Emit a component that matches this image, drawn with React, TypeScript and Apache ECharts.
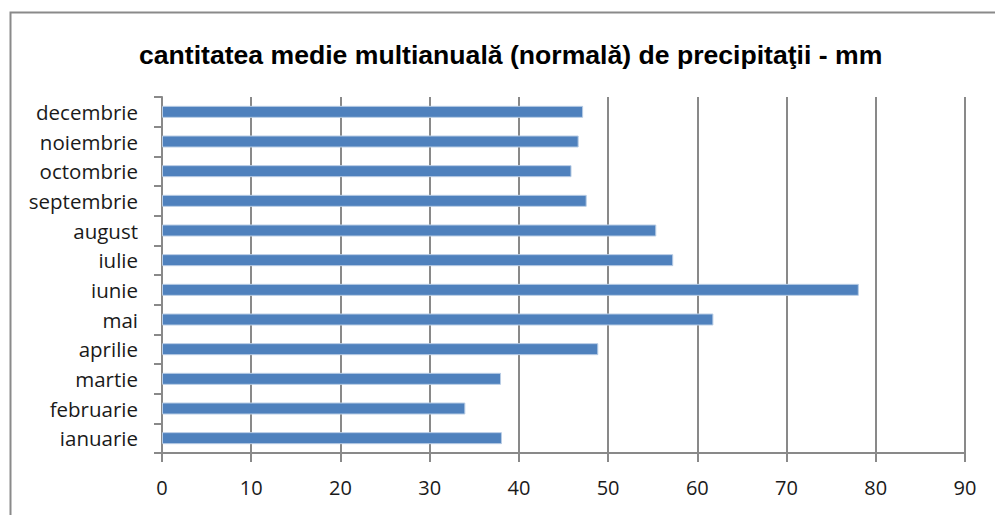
import React, { useEffect, useRef } from "react";
import * as echarts from "echarts";

const months = [
  "ianuarie",
  "februarie",
  "martie",
  "aprilie",
  "mai",
  "iunie",
  "iulie",
  "august",
  "septembrie",
  "octombrie",
  "noiembrie",
  "decembrie",
];
const precip = [38.1, 34.0, 38.0, 48.9, 61.8, 78.1, 57.3, 55.4, 47.6, 45.9, 46.7, 47.2];
const titleText = "cantitatea medie multianuală (normală) de precipitaţii - mm";
const xMin = 0;
const xMax = 90;
const xStep = 10;

export default function App() {
  const ref = useRef<HTMLDivElement>(null);
  useEffect(() => {
    if (!ref.current) return;
    const chart = echarts.init(ref.current, undefined, { renderer: "svg" });
    const gray = "#898989";
    chart.setOption({
      animation: false,
      backgroundColor: "#ffffff",
      title: {
        text: titleText,
        left: 134,
        top: 36,
        textStyle: {
          fontFamily: "Liberation Sans, Arial, sans-serif",
          fontWeight: "bold",
          fontSize: 26.6,
          color: "#000000",
        },
      },
      graphic: [
        {
          type: "rect",
          shape: { x: 10.5, y: 12.5, width: 1000, height: 520 },
          style: { fill: "none", stroke: "#8a8a8a", lineWidth: 2 },
          silent: true,
        },
      ],
      grid: { left: 162, right: 30, top: 97, bottom: 62 },
      xAxis: {
        type: "value",
        min: xMin,
        max: xMax,
        interval: xStep,
        axisLine: { show: true, lineStyle: { color: gray, width: 2 } },
        axisTick: { show: true, length: 9, lineStyle: { color: gray, width: 2 } },
        splitLine: { show: true, lineStyle: { color: gray, width: 2 } },
        axisLabel: {
          margin: 24,
          fontFamily: "Open Sans, Noto Sans, sans-serif",
          fontSize: 20,
          color: "#1a1a1a",
        },
      },
      yAxis: {
        type: "category",
        data: months,
        boundaryGap: true,
        axisLine: { show: true, lineStyle: { color: gray, width: 2 } },
        axisTick: { show: true, length: 8, lineStyle: { color: gray, width: 2 } },
        axisLabel: {
          margin: 24,
          fontFamily: "Open Sans, Noto Sans, sans-serif",
          fontSize: 20.5,
          color: "#1a1a1a",
        },
      },
      series: [
        {
          type: "bar",
          data: precip,
          barWidth: 12,
          itemStyle: { color: "#4F81BD", borderColor: "#b9cde5", borderWidth: 1 },
        },
      ],
    });
    return () => chart.dispose();
  }, []);
  return (
    <div
      ref={ref}
      style={{ position: "fixed", left: 0, top: 0, width: 995, height: 515 }}
    />
  );
}
